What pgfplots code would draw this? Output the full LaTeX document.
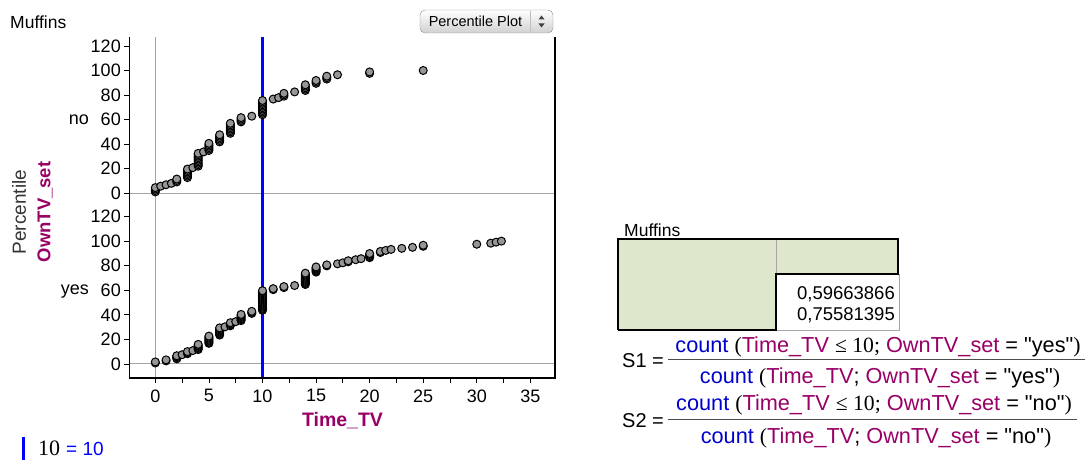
\documentclass[border=0pt]{standalone}
\usepackage{pgfplots}
\pgfplotsset{compat=1.18}
\usepackage{pgfplotstable}
\usepackage{fontspec}
\setmainfont{Liberation Sans}
\newfontfamily\seriffont{Liberation Serif}
\newfontfamily\plainsans{Liberation Sans}[Ligatures=TeXOff]
\definecolor{mag}{RGB}{153,0,102}
\definecolor{cblue}{RGB}{0,0,204}
\definecolor{ptgray}{RGB}{150,150,150}
\definecolor{gridgray}{RGB}{165,165,165}
\definecolor{tgreen}{RGB}{222,230,204}

% OwnTV_set = no (86 cases): Time_TV, percentile
\pgfplotstableread{
x p
0 1.16
0 2.33
0 3.49
0 4.65
0.5 5.81
1 6.98
1.5 8.14
2 9.30
2 10.47
2 11.63
3 12.79
3 13.95
3 15.12
3 16.28
3 17.44
3 18.60
3 19.77
3.5 20.93
4 22.09
4 23.26
4 24.42
4 25.58
4 26.74
4 27.91
4 29.07
4 30.23
4 31.40
4 32.56
4.5 33.72
5 34.88
5 36.05
5 37.21
5 38.37
5 39.53
5 40.70
6 41.86
6 43.02
6 44.19
6 45.35
6 46.51
6 47.67
7 48.84
7 50.00
7 51.16
7 52.33
7 53.49
7 54.65
7 55.81
7 56.98
8 58.14
8 59.30
8 60.47
8 61.63
9 62.79
10 63.95
10 65.12
10 66.28
10 67.44
10 68.60
10 69.77
10 70.93
10 72.09
10 73.26
10 74.42
10 75.58
11 76.74
11.5 77.91
12 79.07
12 80.23
12 81.40
13 82.56
14 83.72
14 84.88
14 86.05
14 87.21
14 88.37
15 89.53
15 90.70
15 91.86
16 93.02
16 94.19
16 95.35
17 96.51
20 97.67
20 98.84
25 100.00
}\nodata

% OwnTV_set = yes (119 cases): Time_TV, percentile
\pgfplotstableread{
x p
0 0.84
0 1.68
1 2.52
1 3.36
2 4.20
2 5.04
2 5.88
2 6.72
2.5 7.56
3 8.40
3 9.24
3 10.08
3.5 10.92
4 11.76
4 12.61
4 13.45
4 14.29
4 15.13
4 15.97
5 16.81
5 17.65
5 18.49
5 19.33
5 20.17
5 21.01
5 21.85
5 22.69
6 23.53
6 24.37
6 25.21
6 26.05
6 26.89
6 27.73
6 28.57
6 29.41
6.5 30.25
7 31.09
7 31.93
7 32.77
7 33.61
7.5 34.45
8 35.29
8 36.13
8 36.97
8 37.82
8 38.66
8 39.50
8 40.34
9 41.18
9 42.02
9 42.86
10 43.70
10 44.54
10 45.38
10 46.22
10 47.06
10 47.90
10 48.74
10 49.58
10 50.42
10 51.26
10 52.10
10 52.94
10 53.78
10 54.62
10 55.46
10 56.30
10 57.14
10 57.98
10 58.82
10 59.66
11 60.50
11 61.34
12 62.18
12 63.03
13 63.87
14 64.71
14 65.55
14 66.39
14 67.23
14 68.07
14 68.91
14 69.75
14 70.59
14 71.43
14 72.27
14 73.11
14 73.95
15 74.79
15 75.63
15 76.47
15 77.31
15 78.15
15 78.99
16 79.83
16 80.67
17 81.51
17.5 82.35
18 83.19
18 84.03
18.7 84.87
19.2 85.71
20 86.55
20 87.39
20 88.24
20 89.08
20 89.92
21 90.76
21 91.60
21.5 92.44
22 93.28
23 94.12
24 94.96
25 95.80
25 96.64
30 97.48
31.3 98.32
31.8 99.16
32.3 100.00
}\yesdata

\pgfplotsset{panel/.style={
  scale only axis, width=425.7pt, height=170.65pt,
  xmin=-2.43, xmax=37.3, ymin=-11.4, ymax=127.5,
  anchor=south west, axis line style={draw=none},
  ytick={0,20,...,120}, tick pos=left, tick align=outside,
  major tick length=5pt, minor tick length=5pt,
  tick style={black, line width=0.8pt},
  ticklabel style={font=\fontsize{18}{18}\selectfont},
  xticklabel style={yshift=-3pt},
  /pgf/number format/assume math mode=true,
}}
\pgfplotsset{pts/.style={only marks, mark=*, mark size=4pt,
  mark options={fill=ptgray, draw=black, line width=1pt}}}

\newcommand{\dq}{{\plainsans"}}
\newcommand{\fnum}[1]{\textcolor{cblue}{count} {\seriffont(}\textcolor{mag}{Time\_TV} {\seriffont≤ 10;} \textcolor{mag}{OwnTV\_set} = \dq#1\dq{\seriffont)}}
\newcommand{\fden}[1]{\textcolor{cblue}{count} {\seriffont(}\textcolor{mag}{Time\_TV}; \textcolor{mag}{OwnTV\_set} = \dq#1\dq{\seriffont)}}

\begin{document}
\begin{tikzpicture}
\useasboundingbox (0pt,0pt) rectangle (1086pt,460pt);

% panel "no"
\begin{axis}[panel, at={(129.3pt,252.65pt)}, xtick=\empty]
\addplot[gridgray, line width=1pt] coordinates {(0,-11.4) (0,127.5)};
\addplot[gridgray, line width=1pt] coordinates {(-2.43,0) (37.3,0)};
\addplot[pts] table {\nodata};
\addplot[blue, line width=3pt] coordinates {(10,-11.4) (10,127.5)};
\end{axis}

% panel "yes"
\begin{axis}[panel, at={(129.3pt,82pt)}, xtick={0,5,...,35}, minor xtick={2.5,7.5,...,32.5}]
\addplot[gridgray, line width=1pt] coordinates {(0,-11.4) (0,127.5)};
\addplot[gridgray, line width=1pt] coordinates {(-2.43,0) (37.3,0)};
\addplot[pts] table {\yesdata};
\addplot[blue, line width=3pt] coordinates {(10,-11.4) (10,127.5)};
\end{axis}

% frame
\draw[black, line width=1.2pt] (129.3pt,423.3pt) -- (129.3pt,82pt) -- (555pt,82pt) -- (555pt,423.3pt);

% texts around plot
\node[anchor=west, inner sep=0pt, font=\fontsize{17.5}{17.5}\selectfont] at (10pt,438pt) {Muffins};
\shade[rounded corners=5pt, top color=white, bottom color=black!18, draw=black!45] (420pt,450pt) rectangle (553pt,427pt);
\draw[black!25] (530pt,449pt) -- (530pt,428pt);
\node[inner sep=0pt, font=\fontsize{14.5}{14.5}\selectfont] at (475.5pt,438.5pt) {Percentile Plot};
\fill[black!75] (538.5pt,440.5pt) -- (544.5pt,440.5pt) -- (541.5pt,444.5pt) -- cycle;
\fill[black!75] (538.5pt,436.5pt) -- (544.5pt,436.5pt) -- (541.5pt,432.5pt) -- cycle;

\node[rotate=90, inner sep=0pt, text=black!80, font=\fontsize{19}{19}\selectfont] at (19pt,248pt) {Percentile};
\node[rotate=90, inner sep=0pt, text=mag, font=\bfseries\fontsize{18.5}{18.5}\selectfont] at (45pt,248pt) {OwnTV\_set};
\node[anchor=east, inner sep=0pt, font=\fontsize{18}{18}\selectfont] at (89pt,340pt) {no};
\node[anchor=east, inner sep=0pt, font=\fontsize{18}{18}\selectfont] at (89pt,168pt) {yes};
\node[inner sep=0pt, text=mag, font=\bfseries\fontsize{19.5}{19.5}\selectfont] at (342.5pt,39pt) {Time\_TV};

% slider
\draw[blue, line width=3pt] (23pt,23pt) -- (23pt,0pt);
\node[anchor=base west, inner sep=0pt] at (38pt,4pt) {{\seriffont\fontsize{22}{22}\selectfont 10}\hspace{6pt}{\fontsize{19}{19}\selectfont\textcolor{blue}{= 10}}};

% summary table
\node[anchor=west, inner sep=0pt, font=\fontsize{17.5}{17.5}\selectfont] at (624pt,230pt) {Muffins};
\fill[tgreen] (618pt,130pt) rectangle (776pt,221pt);
\fill[tgreen] (776pt,186pt) rectangle (899pt,221pt);
\draw[black!35, line width=0.8pt] (776pt,130pt) rectangle (899pt,186pt);
\draw[black!35, line width=0.8pt] (776pt,186pt) -- (776pt,221pt);
\draw[black, line width=1.2pt] (618pt,130pt) -- (618pt,221pt) -- (899pt,221pt);
\draw[black, line width=1.2pt] (618pt,130pt) -- (776pt,130pt) -- (776pt,186pt) -- (899pt,186pt);
\draw[black, line width=1.2pt] (898pt,186pt) -- (898pt,221pt);
\node[anchor=east, inner sep=0pt, font=\fontsize{18.5}{18.5}\selectfont] at (895pt,166pt) {0,59663866};
\node[anchor=east, inner sep=0pt, font=\fontsize{18.5}{18.5}\selectfont] at (895pt,145pt) {0,75581395};

% formulas
\node[anchor=west, inner sep=0pt, font=\fontsize{20}{20}\selectfont] at (622pt,99pt) {S1 =};
\node[inner sep=0pt, font=\fontsize{21.7}{21.7}\selectfont] at (878pt,113.3pt) {\fnum{yes}};
\draw[black!70, line width=1pt] (668pt,100pt) -- (1085pt,100pt);
\node[inner sep=0pt, font=\fontsize{21.7}{21.7}\selectfont] at (880pt,82pt) {\fden{yes}};

\node[anchor=west, inner sep=0pt, font=\fontsize{20}{20}\selectfont] at (622pt,39pt) {S2 =};
\node[inner sep=0pt, font=\fontsize{21.7}{21.7}\selectfont] at (874pt,55pt) {\fnum{no}};
\draw[black!70, line width=1pt] (668pt,40pt) -- (1077pt,40pt);
\node[inner sep=0pt, font=\fontsize{21.7}{21.7}\selectfont] at (876pt,22pt) {\fden{no}};
\end{tikzpicture}
\end{document}
